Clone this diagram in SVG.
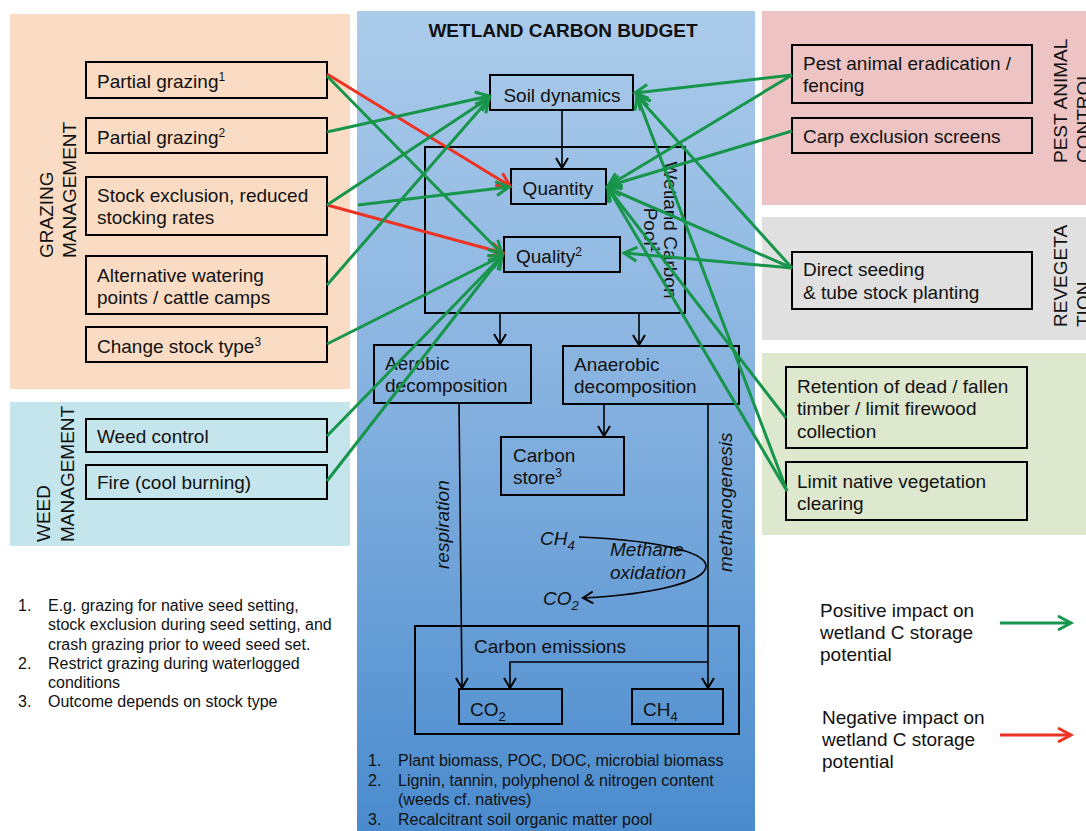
<svg xmlns="http://www.w3.org/2000/svg" width="1086" height="831" viewBox="0 0 1086 831">
<defs>
<linearGradient id="blueGrad" x1="0" y1="0" x2="0" y2="1">
<stop offset="0" stop-color="#ABCBEA"/>
<stop offset="0.45" stop-color="#88B3E0"/>
<stop offset="1" stop-color="#4A8BCE"/>
</linearGradient>
<marker id="ag" viewBox="-15 -9 18 18" markerWidth="18" markerHeight="18" refX="0" refY="0" orient="auto" markerUnits="userSpaceOnUse" overflow="visible">
<path d="M-13,-7 L0,0 L-13,7" fill="none" stroke="#17954A" stroke-width="3"/>
</marker>
<marker id="ar" viewBox="-15 -9 18 18" markerWidth="18" markerHeight="18" refX="0" refY="0" orient="auto" markerUnits="userSpaceOnUse" overflow="visible">
<path d="M-13,-7 L0,0 L-13,7" fill="none" stroke="#EC3324" stroke-width="3"/>
</marker>
<marker id="ak" viewBox="-12 -8 14 16" markerWidth="14" markerHeight="16" refX="0" refY="0" orient="auto" markerUnits="userSpaceOnUse" overflow="visible">
<path d="M-10,-6 L0,0 L-10,6" fill="none" stroke="#000" stroke-width="2"/>
</marker>
</defs>
<style>
text{font-family:"Liberation Sans",Arial,Helvetica,sans-serif;fill:#111;}
.t{font-size:19px;}
.f{font-size:16px;}
.it{font-style:italic;font-size:19px;}
.box{fill:none;stroke:#000;stroke-width:2;}
.g{stroke:#17954A;stroke-width:3;fill:none;marker-end:url(#ag);}
.r{stroke:#EC3324;stroke-width:3;fill:none;marker-end:url(#ar);}
.k{stroke:#000;stroke-width:1.6;fill:none;marker-end:url(#ak);}
</style>
<rect width="1086" height="831" fill="#fff"/>
<!-- panels -->
<g id="panels">
<rect x="10" y="14" width="340" height="375" fill="#FADCC4"/>
<rect x="10" y="402" width="340" height="144" fill="#C5E5ED"/>
<rect x="357" y="11" width="398" height="820" fill="url(#blueGrad)"/>
<rect x="762" y="11" width="324" height="194" fill="#EDC4C3"/>
<rect x="762" y="217" width="324" height="123" fill="#E0E0E0"/>
<rect x="762" y="353" width="324" height="182" fill="#DEE8CF"/>
</g>
<!-- panel labels -->
<g id="labels">
<text class="t" transform="translate(53,258) rotate(-90)">GRAZING<tspan x="0" dy="23">MANAGEMENT</tspan></text>
<text class="t" transform="translate(50,542) rotate(-90)">WEED<tspan x="0" dy="24">MANAGEMENT</tspan></text>
<text class="t" transform="translate(1067,163) rotate(-90)">PEST ANIMAL<tspan x="0" dy="23">CONTROL</tspan></text>
<text class="t" transform="translate(1067,327) rotate(-90)">REVEGETA<tspan x="0" dy="23">TION</tspan></text>
<text x="563" y="37" text-anchor="middle" style="font-size:19px;font-weight:bold">WETLAND CARBON BUDGET</text>
</g>
<!-- left nodes -->
<g id="partial1"><rect class="box" x="86" y="62" width="241" height="36"/><text class="t" x="97" y="88">Partial grazing<tspan font-size="12" dy="-7">1</tspan></text></g>
<g id="partial2"><rect class="box" x="86" y="118" width="241" height="35"/><text class="t" x="97" y="144">Partial grazing<tspan font-size="12" dy="-7">2</tspan></text></g>
<g id="stockexcl"><rect class="box" x="86" y="177" width="241" height="58"/><text class="t" x="97" y="202">Stock exclusion, reduced</text><text class="t" x="97" y="224">stocking rates</text></g>
<g id="altwater"><rect class="box" x="86" y="256" width="241" height="58"/><text class="t" x="97" y="282">Alternative watering</text><text class="t" x="97" y="304">points / cattle camps</text></g>
<g id="changestock"><rect class="box" x="86" y="327" width="241" height="35"/><text class="t" x="97" y="353">Change stock type<tspan font-size="12" dy="-7">3</tspan></text></g>
<g id="weedcontrol"><rect class="box" x="86" y="419" width="241" height="33"/><text class="t" x="97" y="443">Weed control</text></g>
<g id="fire"><rect class="box" x="86" y="465" width="241" height="34"/><text class="t" x="97" y="489">Fire (cool burning)</text></g>
<!-- right nodes -->
<g id="pest"><rect class="box" x="792" y="45" width="240" height="58"/><text class="t" x="803" y="70">Pest animal eradication /</text><text class="t" x="803" y="92">fencing</text></g>
<g id="carp"><rect class="box" x="792" y="118" width="240" height="35"/><text class="t" x="803" y="143">Carp exclusion screens</text></g>
<g id="seeding"><rect class="box" x="792" y="252" width="240" height="57"/><text class="t" x="803" y="276">Direct seeding</text><text class="t" x="803" y="299">&amp; tube stock planting</text></g>
<g id="retention"><rect class="box" x="786" y="367" width="241" height="81"/><text class="t" x="797" y="393">Retention of dead / fallen</text><text class="t" x="797" y="415">timber / limit firewood</text><text class="t" x="797" y="438">collection</text></g>
<g id="limitnative"><rect class="box" x="786" y="462" width="241" height="58"/><text class="t" x="797" y="488">Limit native vegetation</text><text class="t" x="797" y="510">clearing</text></g>
<!-- center nodes -->
<g id="soil"><rect class="box" x="490" y="75" width="143" height="35"/><text class="t" x="562" y="102" text-anchor="middle">Soil dynamics</text></g>
<g id="pool"><rect class="box" x="425" y="147" width="260" height="166"/><text class="t" transform="translate(664,230) rotate(90)" text-anchor="middle">Wetland Carbon<tspan x="0" dy="20">Pool<tspan font-size="12" dy="-7">1</tspan></tspan></text></g>
<g id="quantity"><rect class="box" x="511" y="169" width="95" height="35"/><text class="t" x="558" y="195" text-anchor="middle">Quantity</text></g>
<g id="quality"><rect class="box" x="504" y="237" width="116" height="35"/><text class="t" x="516" y="263">Quality<tspan font-size="12" dy="-7">2</tspan></text></g>
<g id="aerobic"><rect class="box" x="374" y="345" width="157" height="58"/><text class="t" x="385" y="370">Aerobic</text><text class="t" x="385" y="392">decomposition</text></g>
<g id="anaerobic"><rect class="box" x="563" y="346" width="176" height="58"/><text class="t" x="574" y="371">Anaerobic</text><text class="t" x="574" y="393">decomposition</text></g>
<g id="cstore"><rect class="box" x="501" y="437" width="123" height="58"/><text class="t" x="513" y="462">Carbon</text><text class="t" x="513" y="484">store<tspan font-size="12" dy="-7">3</tspan></text></g>
<g id="emissions"><rect class="box" x="415" y="626" width="324" height="108"/><text class="t" x="474" y="653">Carbon emissions</text></g>
<g id="co2"><rect class="box" x="459" y="689" width="103" height="35"/><text class="t" x="470" y="716">CO<tspan font-size="13" dy="5">2</tspan></text></g>
<g id="ch4"><rect class="box" x="632" y="689" width="91" height="35"/><text class="t" x="643" y="716">CH<tspan font-size="13" dy="5">4</tspan></text></g>
<!-- process labels -->
<g id="process-labels">
<text class="it" transform="translate(449,569) rotate(-90)">respiration</text>
<text class="it" transform="translate(732,572) rotate(-90)">methanogenesis</text>
<text class="it" x="540" y="545">CH<tspan font-size="13" dy="5">4</tspan></text>
<text class="it" x="610" y="556">Methane</text>
<text class="it" x="610" y="579">oxidation</text>
<text class="it" x="543" y="605">CO<tspan font-size="13" dy="5">2</tspan></text>
</g>
<!-- connectors -->
<g id="connectors">
<line class="k" x1="562" y1="110" x2="562" y2="168"/>
<line class="k" x1="500" y1="313" x2="500" y2="344"/>
<line class="k" x1="639" y1="313" x2="639" y2="345"/>
<line class="k" x1="604" y1="404" x2="604" y2="436"/>
<line class="k" x1="459" y1="403" x2="462" y2="688"/>
<line class="k" x1="708" y1="404" x2="708" y2="688"/>
<path class="k" d="M708,662 H510 V688"/>
<path class="k" d="M579,537 C760,545 735,590 583,598"/>
<line class="r" x1="327" y1="74" x2="510" y2="186"/>
<line class="r" x1="327" y1="205" x2="503" y2="253"/>
<line class="g" x1="327" y1="76" x2="502" y2="254"/>
<line class="g" x1="327" y1="132" x2="489" y2="96"/>
<line class="g" x1="327" y1="205" x2="489" y2="98"/>
<line class="g" x1="358" y1="205" x2="509" y2="187"/>
<line class="g" x1="327" y1="285" x2="489" y2="99"/>
<line class="g" x1="327" y1="344" x2="502" y2="256"/>
<line class="g" x1="327" y1="436" x2="502" y2="256"/>
<line class="g" x1="327" y1="481" x2="502" y2="256"/>
<line class="g" x1="792" y1="75" x2="635" y2="93"/>
<line class="g" x1="792" y1="75" x2="608" y2="186"/>
<line class="g" x1="792" y1="131" x2="608" y2="186"/>
<line class="g" x1="792" y1="268" x2="637" y2="96"/>
<line class="g" x1="792" y1="268" x2="608" y2="188"/>
<line class="g" x1="792" y1="268" x2="624" y2="253"/>
<line class="g" x1="786" y1="418" x2="608" y2="188"/>
<line class="g" x1="787" y1="491" x2="608" y2="188"/>
<line class="g" x1="787" y1="491" x2="637" y2="96"/>
</g>
<!-- footnotes -->
<g id="notes-left">
<text class="f" x="18" y="611">1.</text><text class="f" x="48" y="611">E.g. grazing for native seed setting,</text>
<text class="f" x="48" y="630">stock exclusion during seed setting, and</text>
<text class="f" x="48" y="650">crash grazing prior to weed seed set.</text>
<text class="f" x="18" y="669">2.</text><text class="f" x="48" y="669">Restrict grazing during waterlogged</text>
<text class="f" x="48" y="688">conditions</text>
<text class="f" x="18" y="707">3.</text><text class="f" x="48" y="707">Outcome depends on stock type</text>
</g>
<g id="notes-center">
<text class="f" x="368" y="766">1.</text><text class="f" x="398" y="766">Plant biomass, POC, DOC, microbial biomass</text>
<text class="f" x="368" y="786">2.</text><text class="f" x="398" y="786">Lignin, tannin, polyphenol &amp; nitrogen content</text>
<text class="f" x="398" y="805">(weeds cf. natives)</text>
<text class="f" x="368" y="825">3.</text><text class="f" x="398" y="825">Recalcitrant soil organic matter pool</text>
</g>
<!-- legend -->
<g id="legend">
<text class="t" x="820" y="617">Positive impact on</text>
<text class="t" x="820" y="639">wetland C storage</text>
<text class="t" x="820" y="661">potential</text>
<line class="g" x1="1000" y1="623" x2="1071" y2="623"/>
<text class="t" x="822" y="724">Negative impact on</text>
<text class="t" x="822" y="746">wetland C storage</text>
<text class="t" x="822" y="768">potential</text>
<line class="r" x1="1000" y1="735" x2="1071" y2="735"/>
</g>
</svg>
